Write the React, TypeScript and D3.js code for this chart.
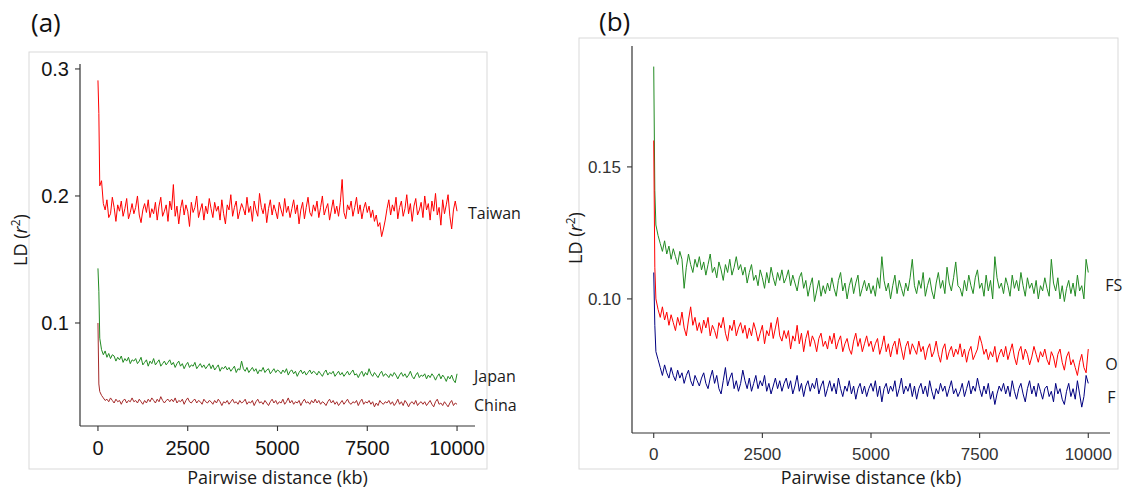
import React from 'react';
import * as d3 from 'd3';

// pairwise distance (kb) at which the mean r2 was sampled
const distances = [0, 25, ...d3.range(50, 10001, 50)];

// panel (a)
const taiwan = [
  0.291, 0.265,
  0.208, 0.212, 0.194, 0.189, 0.197, 0.183, 0.186, 0.199, 0.191, 0.180, 0.193, 0.188, 0.196, 0.184, 0.190, 0.198, 0.182, 0.187, 0.194, 0.186,
  0.191, 0.200, 0.185, 0.179, 0.189, 0.194, 0.187, 0.197, 0.183, 0.190, 0.186, 0.195, 0.181, 0.192, 0.199, 0.184, 0.188, 0.193, 0.180, 0.196,
  0.189, 0.209, 0.184, 0.192, 0.178, 0.190, 0.197, 0.185, 0.193, 0.188, 0.176, 0.195, 0.187, 0.191, 0.200, 0.183, 0.189, 0.194, 0.181, 0.192,
  0.186, 0.198, 0.190, 0.183, 0.195, 0.188, 0.192, 0.181, 0.197, 0.186, 0.178, 0.193, 0.189, 0.201, 0.184, 0.191, 0.196, 0.182, 0.188, 0.194,
  0.190, 0.185, 0.199, 0.187, 0.192, 0.180, 0.196, 0.189, 0.184, 0.202, 0.191, 0.186, 0.194, 0.179, 0.190, 0.197, 0.185, 0.193, 0.188, 0.182,
  0.195, 0.189, 0.184, 0.198, 0.187, 0.192, 0.183, 0.190, 0.197, 0.186, 0.193, 0.178, 0.189, 0.195, 0.182, 0.191, 0.199, 0.187, 0.184, 0.193,
  0.188, 0.196, 0.183, 0.191, 0.200, 0.185, 0.190, 0.194, 0.181, 0.189, 0.197, 0.186, 0.192, 0.184, 0.195, 0.213, 0.187, 0.182, 0.193, 0.189,
  0.196, 0.184, 0.191, 0.199, 0.186, 0.193, 0.182, 0.190, 0.195, 0.187, 0.192, 0.183, 0.189, 0.180, 0.185, 0.176, 0.179, 0.168, 0.174, 0.181,
  0.190, 0.197, 0.185, 0.193, 0.188, 0.199, 0.182, 0.191, 0.196, 0.184, 0.190, 0.201, 0.186, 0.194, 0.180, 0.192, 0.198, 0.185, 0.189, 0.195,
  0.183, 0.200, 0.189, 0.194, 0.181, 0.196, 0.188, 0.202, 0.185, 0.191, 0.177, 0.197, 0.186, 0.193, 0.201, 0.184, 0.174, 0.189, 0.196, 0.188,
];
const japan = [
  0.143, 0.125,
  0.088, 0.079, 0.075, 0.078, 0.073, 0.076, 0.072, 0.075, 0.074, 0.070, 0.073, 0.071, 0.074, 0.069, 0.072, 0.070, 0.073, 0.068, 0.071, 0.070,
  0.072, 0.068, 0.070, 0.073, 0.067, 0.069, 0.071, 0.066, 0.070, 0.068, 0.072, 0.067, 0.069, 0.071, 0.066, 0.068, 0.070, 0.067, 0.069, 0.071,
  0.067, 0.069, 0.065, 0.068, 0.070, 0.066, 0.068, 0.064, 0.067, 0.069, 0.065, 0.067, 0.066, 0.069, 0.064, 0.066, 0.068, 0.065, 0.067, 0.064,
  0.066, 0.068, 0.064, 0.067, 0.063, 0.065, 0.067, 0.062, 0.065, 0.064, 0.066, 0.063, 0.065, 0.062, 0.064, 0.066, 0.061, 0.064, 0.063, 0.070,
  0.064, 0.062, 0.065, 0.061, 0.063, 0.065, 0.062, 0.064, 0.060, 0.063, 0.062, 0.065, 0.061, 0.063, 0.064, 0.060, 0.062, 0.064, 0.061, 0.063,
  0.062, 0.060, 0.063, 0.061, 0.064, 0.059, 0.062, 0.063, 0.060, 0.062, 0.058, 0.061, 0.063, 0.060, 0.062, 0.059, 0.061, 0.063, 0.060, 0.062,
  0.061, 0.059, 0.062, 0.060, 0.058, 0.061, 0.063, 0.059, 0.061, 0.060, 0.062, 0.058, 0.060, 0.062, 0.059, 0.061, 0.058, 0.060, 0.062, 0.059,
  0.061, 0.063, 0.059, 0.060, 0.057, 0.060, 0.062, 0.058, 0.061, 0.059, 0.064, 0.060, 0.058, 0.061, 0.059, 0.057, 0.060, 0.062, 0.058, 0.060,
  0.059, 0.057, 0.060, 0.058, 0.061, 0.059, 0.056, 0.059, 0.061, 0.058, 0.060, 0.057, 0.059, 0.062, 0.058, 0.056, 0.059, 0.061, 0.057, 0.059,
  0.058, 0.060, 0.056, 0.059, 0.057, 0.060, 0.058, 0.055, 0.058, 0.060, 0.056, 0.059, 0.057, 0.054, 0.058, 0.056, 0.059, 0.055, 0.053, 0.060,
];
const china = [
  0.100, 0.052,
  0.046, 0.043, 0.041, 0.039, 0.040, 0.038, 0.041, 0.039, 0.037, 0.040, 0.038, 0.039, 0.036, 0.039, 0.040, 0.037, 0.039, 0.038, 0.041, 0.038,
  0.039, 0.037, 0.040, 0.038, 0.036, 0.039, 0.037, 0.040, 0.038, 0.041, 0.039, 0.037, 0.040, 0.038, 0.042, 0.039, 0.037, 0.039, 0.040, 0.038,
  0.040, 0.038, 0.041, 0.037, 0.039, 0.038, 0.040, 0.036, 0.039, 0.041, 0.038, 0.037, 0.039, 0.040, 0.037, 0.039, 0.038, 0.036, 0.040, 0.038,
  0.037, 0.039, 0.038, 0.036, 0.039, 0.037, 0.040, 0.038, 0.035, 0.038, 0.037, 0.039, 0.036, 0.038, 0.040, 0.037, 0.038, 0.036, 0.039, 0.037,
  0.038, 0.040, 0.036, 0.038, 0.037, 0.039, 0.035, 0.038, 0.040, 0.037, 0.038, 0.036, 0.039, 0.037, 0.035, 0.038, 0.040, 0.037, 0.039, 0.036,
  0.038, 0.037, 0.040, 0.036, 0.038, 0.041, 0.037, 0.039, 0.036, 0.038, 0.037, 0.039, 0.035, 0.038, 0.040, 0.037, 0.038, 0.036, 0.039, 0.037,
  0.040, 0.037, 0.039, 0.036, 0.038, 0.037, 0.035, 0.038, 0.040, 0.037, 0.039, 0.036, 0.038, 0.035, 0.037, 0.039, 0.036, 0.038, 0.040, 0.037,
  0.036, 0.038, 0.037, 0.039, 0.035, 0.038, 0.040, 0.036, 0.038, 0.037, 0.039, 0.036, 0.038, 0.034, 0.037, 0.035, 0.039, 0.037, 0.036, 0.038,
  0.037, 0.039, 0.036, 0.038, 0.035, 0.037, 0.040, 0.036, 0.038, 0.035, 0.039, 0.037, 0.034, 0.037, 0.038, 0.036, 0.039, 0.035, 0.037, 0.038,
  0.036, 0.038, 0.035, 0.037, 0.039, 0.036, 0.034, 0.038, 0.040, 0.036, 0.037, 0.035, 0.038, 0.036, 0.034, 0.037, 0.039, 0.035, 0.037, 0.036,
];

// panel (b)
const fs = [
  0.188, 0.141,
  0.128, 0.124, 0.121, 0.118, 0.122, 0.117, 0.120, 0.115, 0.119, 0.116, 0.113, 0.118, 0.115, 0.104, 0.112, 0.117, 0.113, 0.110, 0.115, 0.112,
  0.116, 0.111, 0.114, 0.109, 0.113, 0.117, 0.110, 0.112, 0.108, 0.114, 0.111, 0.107, 0.113, 0.110, 0.115, 0.109, 0.112, 0.116, 0.111, 0.113,
  0.109, 0.112, 0.106, 0.110, 0.113, 0.107, 0.109, 0.105, 0.111, 0.108, 0.104, 0.110, 0.106, 0.112, 0.108, 0.105, 0.110, 0.107, 0.111, 0.106,
  0.108, 0.111, 0.105, 0.109, 0.106, 0.103, 0.108, 0.110, 0.104, 0.107, 0.101, 0.105, 0.108, 0.099, 0.103, 0.107, 0.101, 0.105, 0.102, 0.106,
  0.103, 0.108, 0.104, 0.101, 0.107, 0.110, 0.103, 0.106, 0.100, 0.105, 0.108, 0.102, 0.106, 0.109, 0.101, 0.104, 0.107, 0.103, 0.106, 0.102,
  0.105, 0.101, 0.108, 0.104, 0.116, 0.107, 0.103, 0.106, 0.100, 0.105, 0.109, 0.102, 0.107, 0.104, 0.101, 0.106, 0.103, 0.108, 0.115, 0.105,
  0.102, 0.107, 0.104, 0.110, 0.101, 0.105, 0.108, 0.103, 0.100, 0.106, 0.110, 0.104, 0.107, 0.102, 0.112, 0.106, 0.103, 0.108, 0.114, 0.105,
  0.104, 0.101, 0.107, 0.103, 0.109, 0.105, 0.102, 0.108, 0.111, 0.104, 0.106, 0.101, 0.109, 0.103, 0.107, 0.100, 0.116, 0.108, 0.104, 0.106,
  0.102, 0.108, 0.105, 0.101, 0.109, 0.104, 0.107, 0.103, 0.110, 0.105, 0.101, 0.108, 0.104, 0.106, 0.102, 0.107, 0.100, 0.105, 0.103, 0.108,
  0.104, 0.101, 0.115, 0.106, 0.103, 0.108, 0.100, 0.105, 0.099, 0.104, 0.107, 0.102, 0.106, 0.101, 0.109, 0.103, 0.105, 0.100, 0.115, 0.110,
];
const o = [
  0.160, 0.112,
  0.100, 0.096, 0.093, 0.097, 0.092, 0.095, 0.090, 0.094, 0.091, 0.088, 0.093, 0.090, 0.095, 0.089, 0.086, 0.092, 0.097, 0.090, 0.093, 0.088,
  0.091, 0.087, 0.092, 0.089, 0.093, 0.086, 0.090, 0.088, 0.085, 0.091, 0.089, 0.093, 0.087, 0.084, 0.090, 0.088, 0.092, 0.086, 0.089, 0.091,
  0.087, 0.090, 0.085, 0.089, 0.086, 0.091, 0.088, 0.084, 0.087, 0.090, 0.083, 0.088, 0.086, 0.091, 0.085, 0.089, 0.093, 0.086, 0.084, 0.088,
  0.085, 0.088, 0.081, 0.086, 0.084, 0.090, 0.083, 0.087, 0.080, 0.085, 0.088, 0.082, 0.086, 0.084, 0.080, 0.085, 0.087, 0.082, 0.084, 0.081,
  0.086, 0.083, 0.087, 0.081, 0.084, 0.086, 0.080, 0.083, 0.085, 0.081, 0.079, 0.084, 0.087, 0.082, 0.085, 0.080, 0.083, 0.086, 0.082, 0.084,
  0.080, 0.083, 0.085, 0.079, 0.082, 0.086, 0.080, 0.083, 0.078, 0.082, 0.084, 0.079, 0.085, 0.081, 0.077, 0.082, 0.084, 0.079, 0.083, 0.081,
  0.079, 0.084, 0.080, 0.082, 0.077, 0.081, 0.083, 0.078, 0.080, 0.084, 0.079, 0.076, 0.081, 0.083, 0.077, 0.080, 0.082, 0.078, 0.081, 0.079,
  0.083, 0.078, 0.081, 0.076, 0.080, 0.082, 0.077, 0.079, 0.081, 0.086, 0.083, 0.079, 0.081, 0.077, 0.080, 0.078, 0.082, 0.076, 0.079, 0.081,
  0.078, 0.082, 0.077, 0.080, 0.083, 0.078, 0.075, 0.080, 0.082, 0.077, 0.081, 0.079, 0.075, 0.078, 0.082, 0.079, 0.076, 0.080, 0.078, 0.081,
  0.077, 0.075, 0.080, 0.078, 0.074, 0.079, 0.081, 0.076, 0.073, 0.078, 0.080, 0.075, 0.077, 0.074, 0.071, 0.076, 0.079, 0.074, 0.072, 0.081,
];
const f = [
  0.110, 0.090,
  0.080, 0.077, 0.074, 0.071, 0.075, 0.072, 0.070, 0.074, 0.071, 0.069, 0.073, 0.070, 0.072, 0.068, 0.071, 0.073, 0.069, 0.067, 0.071, 0.069,
  0.067, 0.070, 0.072, 0.068, 0.066, 0.070, 0.073, 0.068, 0.071, 0.066, 0.064, 0.069, 0.074, 0.067, 0.070, 0.072, 0.066, 0.069, 0.065, 0.068,
  0.073, 0.069, 0.066, 0.070, 0.065, 0.068, 0.071, 0.066, 0.069, 0.067, 0.071, 0.065, 0.068, 0.064, 0.067, 0.070, 0.066, 0.069, 0.065, 0.068,
  0.070, 0.066, 0.069, 0.064, 0.067, 0.071, 0.065, 0.068, 0.063, 0.067, 0.069, 0.065, 0.068, 0.066, 0.070, 0.064, 0.067, 0.069, 0.063, 0.066,
  0.069, 0.065, 0.068, 0.064, 0.070, 0.066, 0.063, 0.067, 0.065, 0.069, 0.064, 0.067, 0.062, 0.066, 0.068, 0.064, 0.067, 0.063, 0.066, 0.068,
  0.065, 0.069, 0.063, 0.067, 0.061, 0.066, 0.068, 0.064, 0.067, 0.065, 0.069, 0.063, 0.066, 0.070, 0.064, 0.067, 0.065, 0.068, 0.063, 0.067,
  0.062, 0.066, 0.068, 0.064, 0.067, 0.063, 0.069, 0.065, 0.062, 0.066, 0.064, 0.068, 0.065, 0.067, 0.063, 0.066, 0.069, 0.064, 0.066, 0.063,
  0.065, 0.068, 0.063, 0.066, 0.069, 0.064, 0.067, 0.065, 0.070, 0.066, 0.063, 0.067, 0.064, 0.068, 0.062, 0.065, 0.060, 0.064, 0.067, 0.065,
  0.068, 0.064, 0.067, 0.063, 0.069, 0.065, 0.062, 0.066, 0.068, 0.064, 0.061, 0.066, 0.069, 0.064, 0.067, 0.063, 0.068, 0.065, 0.062, 0.066,
  0.067, 0.063, 0.065, 0.061, 0.068, 0.064, 0.066, 0.062, 0.060, 0.065, 0.068, 0.063, 0.066, 0.062, 0.069, 0.064, 0.059, 0.063, 0.071, 0.068,
];

const xTicks = [0, 2500, 5000, 7500, 10000];
const yTicksA = [0.1, 0.2, 0.3];
const yTicksB = [0.1, 0.15];

const seriesA = [
  { name: 'Taiwan', values: taiwan, color: '#ff0000', labelY: 0.1866, dx: 11 },
  { name: 'Japan', values: japan, color: '#228b22', labelY: 0.0583, dx: 17 },
  { name: 'China', values: china, color: '#a52a2a', labelY: 0.0354, dx: 17 },
];
const seriesB = [
  { name: 'FS', values: fs, color: '#228b22', labelY: 0.1053, dx: 17 },
  { name: 'O', values: o, color: '#ff0000', labelY: 0.075, dx: 17 },
  { name: 'F', values: f, color: '#000080', labelY: 0.0625, dx: 19 },
];

const titleFont = '"Open Sans", "Noto Sans", sans-serif';
const tickFontFamily = '"Liberation Sans", Arial, sans-serif';

const Panel = ({ tag, tagX, tagY, box, xr, yr, yDomain, yTicks, tickFmt, tickSize, tickColor, series, ldX, ldY }) => {
  const x = d3.scaleLinear().domain([-500, 10500]).range(xr);
  const y = d3.scaleLinear().domain(yDomain).range(yr);
  const line = d3
    .line<number>()
    .x((_, i) => x(distances[i]))
    .y((d) => y(d));
  const bottom = yr[0];
  const left = xr[0];
  return (
    <g>
      <rect x={box[0]} y={box[1]} width={box[2] - box[0]} height={box[3] - box[1]} fill="none" stroke="#d9d9d9" strokeWidth={1} />
      <text x={tagX} y={tagY} fontFamily={titleFont} fontSize={26} fill="#111">{tag}</text>
      {series.map((s) => (
        <path key={s.name} d={line(s.values) || ''} fill="none" stroke={s.color} strokeWidth={1} />
      ))}
      <line x1={left} x2={left} y1={yr[1]} y2={bottom} stroke="#333" strokeWidth={1.2} />
      <line x1={left} x2={xr[1]} y1={bottom} y2={bottom} stroke="#333" strokeWidth={1.2} />
      {yTicks.map((t) => (
        <g key={t}>
          <line x1={left - 5} x2={left} y1={y(t)} y2={y(t)} stroke="#333" strokeWidth={1.1} />
          <text x={left - 11} y={y(t)} dy="0.35em" textAnchor="end" fontFamily={tickFontFamily} fontSize={tickSize} fill={tickColor}>
            {tickFmt(t)}
          </text>
        </g>
      ))}
      {xTicks.map((t) => (
        <g key={t}>
          <line x1={x(t)} x2={x(t)} y1={bottom} y2={bottom + 5} stroke="#333" strokeWidth={1.1} />
          <text x={x(t)} y={bottom + 15} dy="0.71em" textAnchor="middle" fontFamily={tickFontFamily} fontSize={tickSize} fill={tickColor}>
            {t}
          </text>
        </g>
      ))}
      {series.map((s) => (
        <text key={s.name} x={x(10000) + s.dx} y={y(s.labelY)} dy="0.35em" fontFamily={titleFont} fontSize={16} fill="#1a1a1a">
          {s.name}
        </text>
      ))}
      <text x={(xr[0] + xr[1]) / 2} y={484} textAnchor="middle" fontFamily={titleFont} fontSize={18} fill="#1a1a1a">
        Pairwise distance (kb)
      </text>
      <text transform={`translate(${ldX},${ldY}) rotate(-90)`} textAnchor="middle" fontFamily={titleFont} fontSize={18} fill="#1a1a1a">
        LD (<tspan fontStyle="italic">r</tspan>
        <tspan fontSize={12} dy={-7}>2</tspan>
        <tspan dy={7}>)</tspan>
      </text>
    </g>
  );
};

export default function App() {
  return (
    <svg width={1128} height={493} style={{ position: 'absolute', left: 0, top: 0, background: '#fff' }}>
      <rect width={1128} height={493} fill="#fff" />
      <Panel
        tag="(a)"
        tagX={31}
        tagY={32}
        box={[29, 52, 487, 469]}
        xr={[80, 475]}
        yr={[426, 64]}
        yDomain={[0.0189, 0.3039]}
        yTicks={yTicksA}
        tickFmt={(t) => d3.format('.1f')(t)}
        tickSize={20}
        tickColor="#151515"
        series={seriesA}
        ldX={27}
        ldY={240}
      />
      <Panel
        tag="(b)"
        tagX={599}
        tagY={31}
        box={[579, 38, 1118, 469]}
        xr={[632, 1110]}
        yr={[433, 46]}
        yDomain={[0.0492, 0.1958]}
        yTicks={yTicksB}
        tickFmt={(t) => d3.format('.2f')(t)}
        tickSize={17}
        tickColor="#333"
        series={seriesB}
        ldX={582}
        ldY={238}
      />
    </svg>
  );
}
